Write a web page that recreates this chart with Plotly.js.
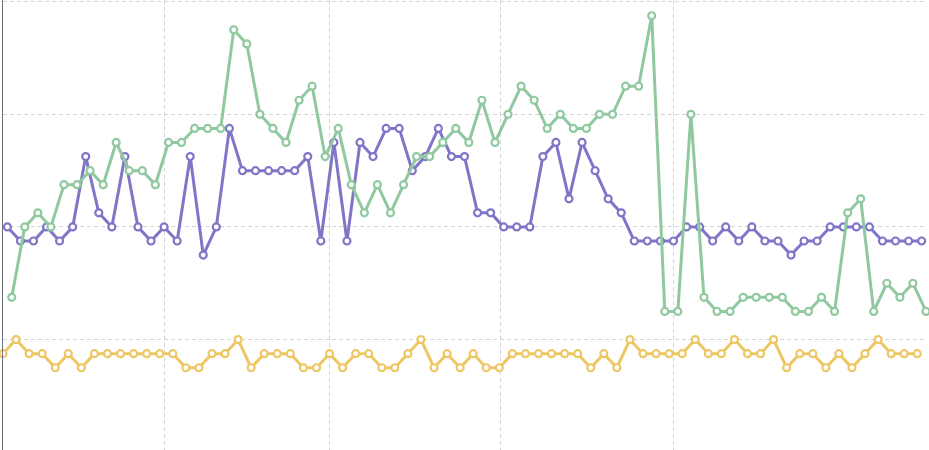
<!DOCTYPE html>
<html>
<head>
<meta charset="utf-8">
<script src="https://cdn.plot.ly/plotly-3.0.1.min.js"></script>
<style>
  html, body { margin: 0; padding: 0; background: #ffffff; }
  #chart { width: 929px; height: 450px; }
</style>
</head>
<body>
<div id="chart"></div>
<script>
// Series values (one reading every 3 time units, series staggered by 1 unit)
const seriesYellow = [7,8,7,7,6,7,6,7,7,7, 7,7,7,7,6,6,7,7,8,6, 7,7,7,6,6,7,6,7,7,6,
  6,7,8,6,7,6,7,6,6,7, 7,7,7,7,7,6,7,6,8,7, 7,7,7,8,7,7,8,7,7,8, 6,7,7,6,7,6,7,8,7,7, 7];
const seriesPurple = [16,15,15,16,15,16,21,17,16,21, 16,15,16,15,21,14,16,23,20,20,
  20,20,20,21,15,22,15,22,21,23, 23,20,21,23,21,21,17,17,16,16, 16,21,22,18,22,20,18,17,15,15,
  15,15,16,16,15,16,15,16,15,15, 14,15,15,16,16,16,16,15,15,15, 15];
const seriesGreen = [11,16,17,16,19,19,20,19,22,20, 20,19,22,22,23,23,23,30,29,24,
  23,22,25,26,21,23,19,17,19,17, 19,21,21,22,23,22,25,22,24,26, 25,23,24,23,23,24,24,26,26,31,
  10,10,24,11,10,10,11,11,11,11, 10,10,11,10,17,18,10,12,11,12, 10];

// Axis gridline positions (no labels visible in the reference)
const xGridVals = [37.05, 75.1, 114.2, 153.9, 212];
const yGridVals = [0, 8, 16, 24, 32];
const xTickText = ["", "", "", "", ""];
const yTickText = ["", "", "", "", ""];

const colors = { yellow: "#eec765", purple: "#7f76c8", green: "#90c9a0" };

function mk(y, x0, color) {
  return {
    type: "scatter", mode: "lines+markers",
    y: y, x0: x0, dx: 3,
    line: { color: color, width: 3 },
    marker: { symbol: "circle", size: 7, color: "#ffffff", line: { color: color, width: 2.2 } },
    cliponaxis: false, hoverinfo: "skip"
  };
}

const data = [
  mk(seriesYellow, 0, colors.yellow),
  mk(seriesPurple, 1, colors.purple),
  mk(seriesGreen, 2, colors.green)
];

const layout = {
  width: 929, height: 450,
  margin: { l: 3, r: 2, t: 0, b: 0, pad: 0 },
  paper_bgcolor: "#ffffff", plot_bgcolor: "#ffffff",
  showlegend: false,
  xaxis: {
    range: [0, 212.23], tickmode: "array", tickvals: xGridVals, ticktext: xTickText,
    showticklabels: false, ticks: "", showgrid: true, gridcolor: "#d4d4d4", gridwidth: 1,
    griddash: "4px,3px", zeroline: false, showline: false
  },
  yaxis: {
    range: [0.156, 32.12], tickmode: "array", tickvals: yGridVals, ticktext: yTickText,
    showticklabels: false, ticks: "", showgrid: true, gridcolor: "#d4d4d4", gridwidth: 1,
    griddash: "4px,3px", zeroline: false, showline: true, linecolor: "#6e7079", linewidth: 1
  }
};

Plotly.newPlot("chart", data, layout, { staticPlot: true, displayModeBar: false });
</script>
</body>
</html>
